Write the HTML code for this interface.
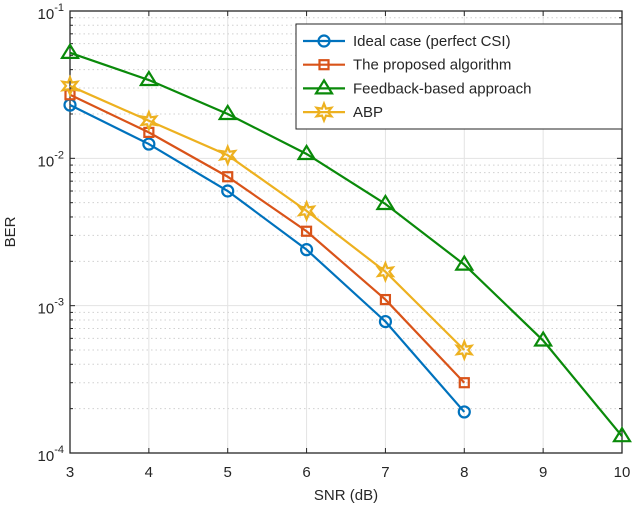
<!DOCTYPE html>
<html><head><meta charset="utf-8"><style>
body{margin:0;background:#fff;}
svg text{font-family:"Liberation Sans",sans-serif;fill:#262626;}
</style></head><body>
<svg id="chart" width="634" height="510" xmlns="http://www.w3.org/2000/svg"></svg>
<script>
const snr = [3,4,5,6,7,8,9,10];
const idealBer = [0.023,0.0125,0.006,0.0024,0.00078,0.00019];
const proposedBer = [0.027,0.015,0.0075,0.0032,0.0011,0.0003];
const feedbackBer = [0.052,0.034,0.020,0.0107,0.0049,0.0019,0.00058,0.00013];
const abpBer = [0.031,0.018,0.0105,0.0044,0.0017,0.0005];
const xTicks = [3,4,5,6,7,8,9,10];
const yDecades = [-1,-2,-3,-4];

const L=70,R=622,T=11,B=453;
const NS="http://www.w3.org/2000/svg";
const svg=document.getElementById('chart');
const xs=v=>L+(v-3)/(10-3)*(R-L);
const ys=v=>T+(-1-Math.log10(v))/3*(B-T);
function el(tag,attrs,parent){const e=document.createElementNS(NS,tag);for(const k in attrs)e.setAttribute(k,attrs[k]);(parent||svg).appendChild(e);return e;}

const grid=el('g',{});


for(const t of xTicks){el('line',{x1:xs(t),x2:xs(t),y1:T,y2:B,stroke:'#e3e3e3','stroke-width':1},grid);}
for(let d=-1;d>=-4;d--){
  el('line',{x1:L,x2:R,y1:ys(Math.pow(10,d)),y2:ys(Math.pow(10,d)),stroke:'#e3e3e3','stroke-width':1},grid);
  if(d>-4)for(let m=2;m<=9;m++){const y=ys(m*Math.pow(10,d-1));
    el('line',{x1:L,x2:R,y1:y,y2:y,stroke:'#d0d0d0','stroke-width':1,'stroke-dasharray':'1.5,3'},grid);
    el('line',{x1:L,x2:L+3,y1:y,y2:y,stroke:'#262626'},grid);el('line',{x1:R,x2:R-3,y1:y,y2:y,stroke:'#262626'},grid);}
}
const box=el('rect',{x:L,y:T,width:R-L,height:B-T,fill:'none',stroke:'#262626','stroke-width':1.3});


for(const t of xTicks){
  el('line',{x1:xs(t),x2:xs(t),y1:B,y2:B-5,stroke:'#262626'});
  el('line',{x1:xs(t),x2:xs(t),y1:T,y2:T+5,stroke:'#262626'});
  const tx=el('text',{x:xs(t),y:B+24,'font-size':15,'text-anchor':'middle'});tx.textContent=t;
  
  
}
for(const d of yDecades){
  const y=ys(Math.pow(10,d));
  el('line',{x1:L,x2:L+5,y1:y,y2:y,stroke:'#262626'});el('line',{x1:R,x2:R-5,y1:y,y2:y,stroke:'#262626'});
  const tx=el('text',{x:L-6,y:y+8,'font-size':15,'text-anchor':'end'});
  tx.innerHTML='10<tspan dy="-8" font-size="11">'+d+'</tspan>';
  
  
}
const xt=el('text',{x:(L+R)/2,y:500,'font-size':15,'text-anchor':'middle'});xt.textContent='SNR (dB)';


const yt=el('text',{x:0,y:0,'font-size':15,'text-anchor':'middle',transform:'translate(15,'+((T+B)/2)+') rotate(-90)'});yt.textContent='BER';



function marker(g,type,x,y,c){
  if(type==='o')el('circle',{cx:x,cy:y,r:5.5,fill:'none',stroke:c,'stroke-width':2.2},g);
  else if(type==='s')el('rect',{x:x-4.5,y:y-4.5,width:9,height:9,fill:'none',stroke:c,'stroke-width':2.2},g);
  else if(type==='^')el('polygon',{points:`${x},${y-8} ${x-8},${y+5} ${x+8},${y+5}`,fill:'none',stroke:c,'stroke-width':2.2},g);
  else {let p=[];for(let i=0;i<12;i++){const r=i%2?4:8.5,a=-Math.PI/2+i*Math.PI/6;p.push((x+r*Math.cos(a)).toFixed(1)+','+(y+r*Math.sin(a)).toFixed(1));}
    el('polygon',{points:p.join(' '),fill:'none',stroke:c,'stroke-width':2.2},g);}
}
const series=[
 {name:'Ideal case (perfect CSI)',d:idealBer,c:'#0072bd',m:'o',id:'series-ideal'},
 {name:'The proposed algorithm',d:proposedBer,c:'#d95319',m:'s',id:'series-proposed'},
 {name:'Feedback-based approach',d:feedbackBer,c:'#0a8a0a',m:'^',id:'series-feedback'},
 {name:'ABP',d:abpBer,c:'#edb120',m:'*',id:'series-abp'}];
for(const s of series){
  const g=el('g',{});
  
  
  el('polyline',{points:s.d.map((v,i)=>xs(snr[i])+','+ys(v)).join(' '),fill:'none',stroke:s.c,'stroke-width':2.2},g);
  s.d.forEach((v,i)=>marker(g,s.m,xs(snr[i]),ys(v),s.c));
}
const lg=el('g',{});


el('rect',{x:296,y:24,width:326,height:105,fill:'#fff',stroke:'#262626','stroke-width':1},lg);
series.forEach((s,i)=>{
  const y=41+i*23.7;
  const e=el('g',{},lg);
  
  
  el('line',{x1:303,x2:345,y1:y,y2:y,stroke:s.c,'stroke-width':2.2},e);
  marker(e,s.m,324,y,s.c);
  const t=el('text',{x:353,y:y+5,'font-size':15},e);t.textContent=s.name;
});
</script>
</body></html>
